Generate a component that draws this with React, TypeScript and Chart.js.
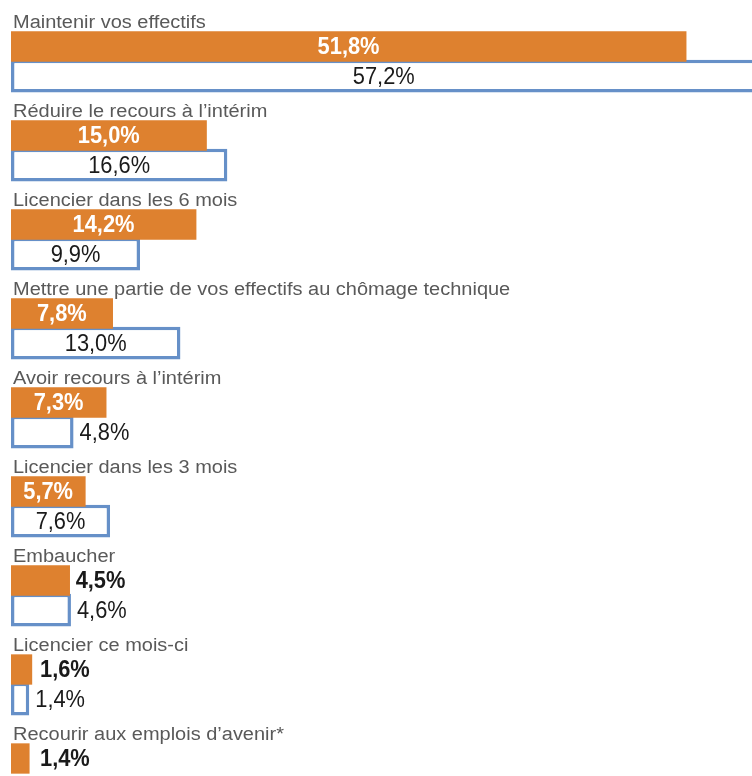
import { useEffect, useRef } from "react";
import { Chart, registerables } from "chart.js";

Chart.register(...registerables);

const categories = [
  "Maintenir vos effectifs",
  "Réduire le recours à l’intérim",
  "Licencier dans les 6 mois",
  "Mettre une partie de vos effectifs au chômage technique",
  "Avoir recours à l’intérim",
  "Licencier dans les 3 mois",
  "Embaucher",
  "Licencier ce mois-ci",
  "Recourir aux emplois d’avenir*",
];
const seriesOrange: (number | null)[] = [51.8, 15.0, 14.2, 7.8, 7.3, 5.7, 4.5, 1.6, 1.4];
const seriesBlue: (number | null)[] = [57.2, 16.6, 9.9, 13.0, 4.8, 7.6, 4.6, 1.4, null];
const labelRow: (number | null)[] = categories.map(() => null);

const ORANGE = "#DE812F";
const BLUE = "#6690C8";
const TEXT_GREY = "#595959";
const VALUE_FONT = "24px 'Liberation Sans', Arial, sans-serif";
const VALUE_FONT_BOLD = "bold 24px 'Liberation Sans', Arial, sans-serif";
const VALUE_SCALE_X = 0.91;
const CAT_FONT = "18px 'Liberation Sans', Arial, sans-serif";
const CAT_SCALE_X = 1.11;

const fmt = (v: number) => v.toFixed(1).replace(".", ",") + "%";

const labelsPlugin = {
  id: "customLabels",
  afterDatasetsDraw(chart: any) {
    const ctx = chart.ctx as CanvasRenderingContext2D;
    const orangeMeta = chart.getDatasetMeta(1);
    const blueMeta = chart.getDatasetMeta(2);
    ctx.save();
    ctx.font = CAT_FONT;
    ctx.fillStyle = TEXT_GREY;
    ctx.textBaseline = "alphabetic";
    ctx.textAlign = "left";
    categories.forEach((c, i) => {
      const el = orangeMeta.data[i];
      if (!el) return;
      const top = el.y - el.height / 2;
      ctx.save();
      ctx.translate(13, top - 4);
      ctx.scale(CAT_SCALE_X, 1);
      ctx.fillText(c, 0, 0);
      ctx.restore();
    });

    const drawValue = (
      el: any,
      v: number | null,
      bold: boolean,
      insideColor: string,
      gap: number,
      minStart: number
    ) => {
      if (v == null || !el) return;
      const txt = fmt(v);
      ctx.font = bold ? VALUE_FONT_BOLD : VALUE_FONT;
      const w = ctx.measureText(txt).width * VALUE_SCALE_X;
      const start = Math.min(el.base, el.x);
      const end = Math.max(el.base, el.x);
      const barW = end - start;
      let cx: number;
      let color: string;
      if (barW >= w + 16) {
        cx = (start + end) / 2;
        color = insideColor;
      } else {
        cx = Math.max(end + gap, minStart) + w / 2;
        color = "#1a1a1a";
      }
      ctx.save();
      ctx.translate(cx, el.y);
      ctx.scale(VALUE_SCALE_X, 1);
      ctx.fillStyle = color;
      ctx.textAlign = "center";
      ctx.textBaseline = "middle";
      ctx.fillText(txt, 0, 1);
      ctx.restore();
    };

    seriesOrange.forEach((v, i) => drawValue(orangeMeta.data[i], v, true, "#ffffff", 6, 40));
    seriesBlue.forEach((v, i) => drawValue(blueMeta.data[i], v, false, "#1a1a1a", 6, 0));
    ctx.restore();
  },
};

export default function App() {
  const ref = useRef<HTMLCanvasElement | null>(null);

  useEffect(() => {
    if (!ref.current) return;
    const chart = new Chart(ref.current, {
      type: "bar",
      data: {
        labels: categories,
        datasets: [
          {
            label: "labels",
            data: labelRow,
            backgroundColor: "rgba(0,0,0,0)",
            barPercentage: 1,
            categoryPercentage: 1,
          },
          {
            label: "orange",
            data: seriesOrange,
            backgroundColor: ORANGE,
            borderWidth: 0,
            barPercentage: 1,
            categoryPercentage: 1,
          },
          {
            label: "blue",
            data: seriesBlue,
            backgroundColor: "#ffffff",
            borderColor: BLUE,
            borderWidth: 3.5,
            borderSkipped: false,
            barPercentage: 1.1,
            categoryPercentage: 1,
          },
        ],
      },
      options: {
        indexAxis: "y",
        responsive: false,
        animation: false,
        devicePixelRatio: 1,
        layout: { padding: { left: 11, right: 7, top: 2, bottom: 7 } },
        scales: {
          x: { display: false, min: 0, max: 60, grid: { display: false } },
          y: { display: false, grid: { display: false } },
        },
        plugins: {
          legend: { display: false },
          tooltip: { enabled: false },
        },
      } as any,
      plugins: [labelsPlugin],
    });
    return () => chart.destroy();
  }, []);

  return (
    <div
      style={{
        position: "fixed",
        left: 0,
        top: 0,
        width: 752,
        height: 776,
        overflow: "hidden",
        background: "#ffffff",
      }}
    >
      <canvas ref={ref} width={800} height={810} style={{ display: "block" }} />
    </div>
  );
}
